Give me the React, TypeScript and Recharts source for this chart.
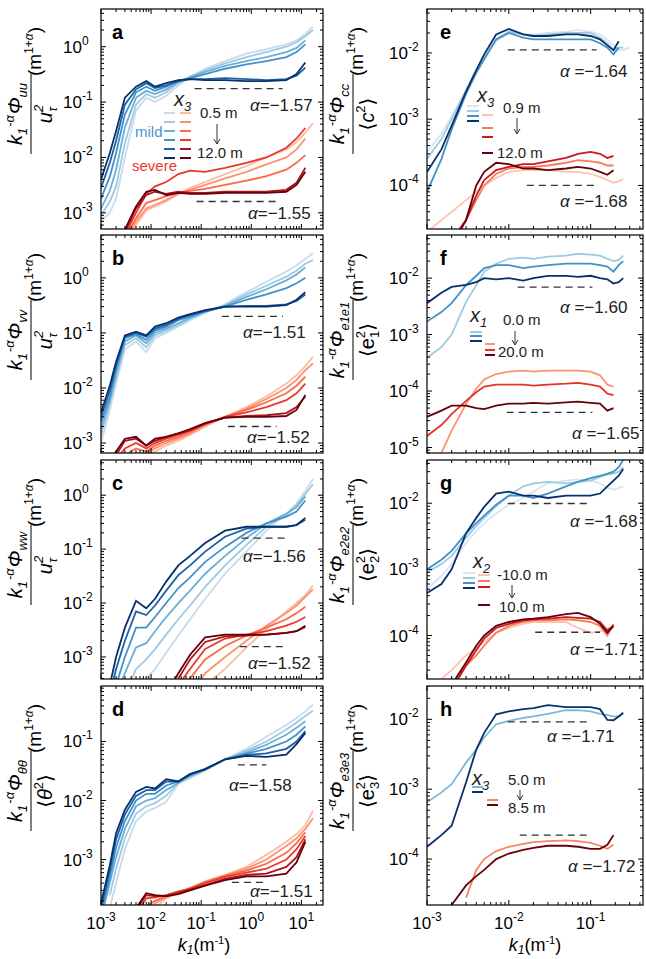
import React from 'react';
import { LineChart, Line, XAxis, YAxis } from 'recharts';

// wavenumber grids (m^-1)
const K_L = [0.001, 0.0015, 0.002, 0.003, 0.005, 0.008, 0.012, 0.02, 0.035, 0.06, 0.12, 0.3, 0.8, 2, 5, 8, 12, 17];
const K_R = [0.001, 0.0015, 0.002, 0.003, 0.004, 0.005, 0.007, 0.01, 0.015, 0.02, 0.03, 0.05, 0.07, 0.1, 0.13, 0.16, 0.19, 0.22, 0.25, 0.3];

// a: uu, mild (blue) and severe (red), light -> dark = 0.5 m -> 12 m
const A_BLUE = [
  [0.0007, 0.001, 0.0018, 0.01, 0.07, 0.12, 0.1, 0.13, 0.2, 0.28, 0.4, 0.55, 0.75, 0.9, 1.1, 1.3, 1.7, 2.3],
  [0.0009, 0.0016, 0.003, 0.018, 0.09, 0.14, 0.12, 0.15, 0.22, 0.29, 0.38, 0.5, 0.65, 0.8, 1.0, 1.2, 1.55, 2.0],
  [0.0012, 0.0025, 0.006, 0.035, 0.12, 0.16, 0.14, 0.17, 0.23, 0.28, 0.35, 0.45, 0.55, 0.65, 0.8, 0.95, 1.3, null],
  [0.0018, 0.0045, 0.012, 0.06, 0.15, 0.19, 0.16, 0.19, 0.24, 0.27, 0.32, 0.4, 0.48, 0.55, 0.65, 0.8, 1.1, null],
  [0.0028, 0.008, 0.02, 0.09, 0.17, 0.22, 0.18, 0.2, 0.24, 0.26, 0.26, 0.27, 0.26, 0.25, 0.26, 0.3, 0.42, null],
  [0.004, 0.012, 0.03, 0.12, 0.19, 0.24, 0.19, 0.22, 0.25, 0.26, 0.25, 0.25, 0.24, 0.24, 0.25, 0.32, 0.52, null],
];
const A_RED = [
  [null, null, 2e-4, 3e-4, 6e-4, 1.1e-3, 1.3e-3, 1.6e-3, 2.2e-3, 2.8e-3, 3.6e-3, 5e-3, 7e-3, 1e-2, 1.4e-2, 1.9e-2, 2.8e-2, 4.2e-2],
  [null, null, 2e-4, 3e-4, 7e-4, 1.2e-3, 1.4e-3, 1.7e-3, 2.2e-3, 2.6e-3, 3.2e-3, 4.2e-3, 5.5e-3, 7.5e-3, 1e-2, 1.4e-2, 2.2e-2, null],
  [null, null, 2e-4, 3.5e-4, 8e-4, 1.5e-3, 1.7e-3, 2e-3, 2.3e-3, 2.5e-3, 2.7e-3, 3.2e-3, 3.8e-3, 4.6e-3, 6e-3, 8e-3, 1.1e-2, null],
  [null, null, 2e-4, 4e-4, 1e-3, 2.2e-3, 3e-3, 3.6e-3, 5e-3, 5.8e-3, 5.5e-3, 6.5e-3, 8e-3, 1e-2, 1.5e-2, 2.2e-2, 3.4e-2, null],
  [null, null, 2e-4, 4.5e-4, 1.2e-3, 2.1e-3, 2.4e-3, 2.2e-3, 2.4e-3, 2.3e-3, 2.3e-3, 2.4e-3, 2.4e-3, 2.4e-3, 2.6e-3, 3.5e-3, 6.5e-3, null],
  [null, null, 2e-4, 5e-4, 1.3e-3, 2.4e-3, 2.6e-3, 2.1e-3, 2.3e-3, 2.2e-3, 2.2e-3, 2.3e-3, 2.3e-3, 2.3e-3, 2.4e-3, 3.2e-3, 5.5e-3, null],
];
const A_REF = [[0.074, 4.2, 0.175], [0.081, 3.6, 1.6e-3]];
const A_ALPHA = ['−1.57', '−1.55'];

// b: vv
const B_BLUE = [
  [0.001, 0.004, 0.012, 0.05, 0.07, 0.045, 0.08, 0.1, 0.13, 0.17, 0.23, 0.33, 0.55, 0.85, 1.3, 1.7, 2.2, 2.8],
  [0.0014, 0.005, 0.015, 0.06, 0.08, 0.055, 0.09, 0.11, 0.14, 0.18, 0.24, 0.32, 0.5, 0.72, 1.05, 1.35, 1.8, 2.1],
  [0.0018, 0.006, 0.018, 0.07, 0.09, 0.065, 0.1, 0.12, 0.15, 0.19, 0.24, 0.31, 0.45, 0.62, 0.9, 1.15, 1.55, null],
  [0.0024, 0.007, 0.022, 0.08, 0.095, 0.075, 0.11, 0.13, 0.17, 0.2, 0.25, 0.3, 0.4, 0.5, 0.65, 0.8, 1.0, null],
  [0.003, 0.009, 0.026, 0.085, 0.1, 0.085, 0.12, 0.14, 0.18, 0.21, 0.25, 0.3, 0.31, 0.31, 0.33, 0.38, 0.5, null],
  [0.0036, 0.011, 0.03, 0.09, 0.105, 0.09, 0.13, 0.15, 0.19, 0.22, 0.26, 0.3, 0.3, 0.3, 0.32, 0.4, 0.55, null],
];
const B_RED = [
  [null, null, null, 3e-4, 5e-4, 6e-4, 7e-4, 9e-4, 1.1e-3, 1.4e-3, 2e-3, 3e-3, 4.5e-3, 7e-3, 1.2e-2, 1.7e-2, 2.5e-2, 3.7e-2],
  [null, null, null, 4e-4, 6e-4, 6.5e-4, 8e-4, 1e-3, 1.2e-3, 1.5e-3, 2.1e-3, 3e-3, 4.2e-3, 6.3e-3, 1e-2, 1.4e-2, 2.1e-2, 2.8e-2],
  [null, null, 4e-4, 6e-4, 8e-4, 7e-4, 9e-4, 1.1e-3, 1.3e-3, 1.6e-3, 2.2e-3, 3e-3, 4e-3, 5.5e-3, 8e-3, 1.1e-2, 1.6e-2, null],
  [null, null, 5e-4, 8e-4, 1e-3, 8e-4, 1e-3, 1.2e-3, 1.4e-3, 1.7e-3, 2.2e-3, 3e-3, 3.6e-3, 4.5e-3, 6e-3, 8e-3, 1.2e-2, null],
  [null, 5e-4, 6e-4, 1.1e-3, 1.2e-3, 9e-4, 1.1e-3, 1.3e-3, 1.5e-3, 1.7e-3, 2.3e-3, 2.9e-3, 3.1e-3, 3.2e-3, 3.5e-3, 4.5e-3, 7e-3, null],
  [null, 5e-4, 7e-4, 1.2e-3, 1.3e-3, 9e-4, 1.2e-3, 1.3e-3, 1.5e-3, 1.8e-3, 2.3e-3, 2.9e-3, 3e-3, 3e-3, 3.1e-3, 4e-3, 7.5e-3, null],
];
const B_REF = [[0.26, 4.3, 0.2], [0.34, 3.2, 2e-3]];
const B_ALPHA = ['−1.51', '−1.52'];

// c: ww
const C_BLUE = [
  [null, null, null, 1e-4, 2e-4, 4e-4, 6e-4, 1.2e-3, 2.5e-3, 5e-3, 0.012, 0.035, 0.09, 0.22, 0.45, 0.7, 1.2, 2.0],
  [null, null, 1e-4, 2e-4, 6e-4, 9e-4, 1.4e-3, 2.6e-3, 5e-3, 9e-3, 0.02, 0.05, 0.12, 0.26, 0.45, 0.65, 1.05, 1.6],
  [null, null, 2e-4, 5e-4, 1.5e-3, 1.8e-3, 3e-3, 5.5e-3, 0.01, 0.017, 0.035, 0.075, 0.16, 0.3, 0.45, 0.6, 0.95, null],
  [null, 1e-4, 3e-4, 1e-3, 3.5e-3, 3.5e-3, 5.5e-3, 0.01, 0.019, 0.03, 0.058, 0.11, 0.2, 0.3, 0.4, 0.5, 0.8, null],
  [null, 2e-4, 6e-4, 2e-3, 7e-3, 6e-3, 9e-3, 0.017, 0.033, 0.05, 0.09, 0.17, 0.24, 0.26, 0.26, 0.28, 0.35, null],
  [null, 3e-4, 1e-3, 3.5e-3, 0.011, 0.008, 0.012, 0.025, 0.05, 0.075, 0.13, 0.22, 0.26, 0.26, 0.26, 0.28, 0.38, null],
];
const C_RED = [
  [null, null, null, null, null, null, null, null, null, null, 3e-4, 6e-4, 1.5e-3, 3.3e-3, 7e-3, 1e-2, 1.4e-2, 2.1e-2],
  [null, null, null, null, null, null, null, null, null, 2e-4, 5e-4, 1e-3, 2e-3, 3.8e-3, 6.5e-3, 9e-3, 1.3e-2, 1.8e-2],
  [null, null, null, null, null, null, null, null, 2e-4, 4e-4, 9e-4, 1.6e-3, 2.5e-3, 3.5e-3, 5e-3, 6.5e-3, 8.5e-3, null],
  [null, null, null, null, null, null, null, null, 3e-4, 6e-4, 1.4e-3, 2.2e-3, 2.6e-3, 3e-3, 3.8e-3, 4.5e-3, 5.5e-3, null],
  [null, null, null, null, null, null, null, null, 4e-4, 9e-4, 1.9e-3, 2.4e-3, 2.5e-3, 2.6e-3, 2.8e-3, 3e-3, 3.6e-3, null],
  [null, null, null, null, null, null, null, 2e-4, 5e-4, 1.1e-3, 2.3e-3, 2.6e-3, 2.6e-3, 2.6e-3, 2.8e-3, 3e-3, 3.8e-3, null],
];
const C_REF = [[0.64, 5.3, 0.16], [0.59, 4.7, 1.55e-3]];
const C_ALPHA = ['−1.56', '−1.52'];

// d: theta theta
const D_BLUE = [
  [null, 1.5e-4, 4e-4, 1.5e-3, 4.5e-3, 6.5e-3, 7.5e-3, 9.5e-3, 0.019, 0.024, 0.032, 0.05, 0.075, 0.12, 0.19, 0.25, 0.32, 0.42],
  [null, 2.5e-4, 7e-4, 2.3e-3, 6e-3, 8e-3, 9e-3, 0.012, 0.02, 0.025, 0.033, 0.05, 0.07, 0.1, 0.16, 0.21, 0.27, 0.33],
  [1e-4, 4e-4, 1.1e-3, 3.3e-3, 8e-3, 0.01, 0.011, 0.015, 0.02, 0.026, 0.033, 0.05, 0.065, 0.088, 0.13, 0.17, 0.22, null],
  [1.2e-4, 5e-4, 1.6e-3, 4.5e-3, 0.01, 0.013, 0.013, 0.018, 0.021, 0.027, 0.034, 0.05, 0.062, 0.075, 0.1, 0.13, 0.18, null],
  [1.5e-4, 6.5e-4, 2.2e-3, 5.8e-3, 0.012, 0.015, 0.015, 0.021, 0.021, 0.028, 0.034, 0.05, 0.059, 0.063, 0.075, 0.1, 0.15, null],
  [1.8e-4, 8e-4, 2.8e-3, 7e-3, 0.014, 0.017, 0.016, 0.023, 0.021, 0.028, 0.034, 0.05, 0.057, 0.055, 0.06, 0.09, 0.14, null],
];
const D_RED = [
  [null, null, null, null, null, null, 1.5e-4, 2.2e-4, 2.7e-4, 3.3e-4, 4.3e-4, 5.5e-4, 7.5e-4, 1.2e-3, 2e-3, 2.7e-3, 3.8e-3, 6.7e-3],
  [null, null, null, null, null, 1.3e-4, 1.8e-4, 2.3e-4, 2.7e-4, 3.3e-4, 4.2e-4, 5.4e-4, 7e-4, 1e-3, 1.7e-3, 2.3e-3, 3.3e-3, 5e-3],
  [null, null, null, null, null, 1.6e-4, 2e-4, 2.4e-4, 2.8e-4, 3.3e-4, 4.1e-4, 5.3e-4, 6.5e-4, 8.5e-4, 1.3e-3, 1.9e-3, 2.9e-3, null],
  [null, null, null, null, 1.2e-4, 2.2e-4, 2.3e-4, 2.5e-4, 2.9e-4, 3.2e-4, 4e-4, 5.1e-4, 6e-4, 7e-4, 1e-3, 1.5e-3, 2.5e-3, null],
  [null, null, null, null, 1.4e-4, 2.5e-4, 2.4e-4, 2.4e-4, 2.7e-4, 3.1e-4, 3.7e-4, 4.7e-4, 5.5e-4, 5.8e-4, 7.5e-4, 1.1e-3, 2.2e-3, null],
  [null, null, null, null, 1.5e-4, 2.7e-4, 2.5e-4, 2.4e-4, 2.6e-4, 3e-4, 3.6e-4, 4.5e-4, 5.2e-4, 5.2e-4, 5.8e-4, 9e-4, 2e-3, null],
];
const D_REF = [[0.54, 2.0, 0.04], [0.41, 2.0, 4.1e-4]];
const D_ALPHA = ['−1.58', '−1.51'];

// e: cc, x3 = 0.9 m -> 12 m
const E_BLUE = [
  [3.2e-4, 6e-4, 1.1e-3, 2.8e-3, 5.5e-3, 8.5e-3, 0.015, 0.02, 0.019, 0.019, 0.02, 0.021, 0.022, 0.021, 0.019, 0.016, 0.013, 0.011, 0.011, 0.012],
  [2.5e-4, 5e-4, 1e-3, 2.7e-3, 5.5e-3, 8.5e-3, 0.016, 0.021, 0.019, 0.018, 0.019, 0.02, 0.02, 0.02, 0.017, 0.014, 0.011, 0.012, 0.012, null],
  [8e-5, 2.5e-4, 7e-4, 2.4e-3, 5e-3, 8e-3, 0.016, 0.02, 0.017, 0.016, 0.016, 0.016, 0.016, 0.016, 0.014, 0.012, 0.0095, 0.012, null, null],
  [1.6e-4, 3.5e-4, 8e-4, 2.6e-3, 5.5e-3, 9.5e-3, 0.019, 0.023, 0.019, 0.018, 0.018, 0.019, 0.019, 0.018, 0.016, 0.013, 0.011, 0.015, null, null],
];
const E_RED = [
  [2e-5, 3e-5, 4e-5, 6e-5, 8e-5, 1e-4, 1.3e-4, 1.6e-4, 1.7e-4, 1.7e-4, 1.7e-4, 1.6e-4, 1.6e-4, 1.5e-4, 1.35e-4, 1.2e-4, 1.1e-4, 1.15e-4, 1.25e-4, null],
  [null, 1e-5, 1.5e-5, 3e-5, 6e-5, 1e-4, 1.5e-4, 1.8e-4, 1.9e-4, 1.9e-4, 2e-4, 2.2e-4, 2.4e-4, 2.3e-4, 2.2e-4, 2e-4, 2e-4, null, null, null],
  [null, 1e-5, 1.5e-5, 3e-5, 7e-5, 1.2e-4, 1.7e-4, 1.9e-4, 2.1e-4, 2.1e-4, 2.3e-4, 2.6e-4, 3e-4, 3.2e-4, 3e-4, 2.6e-4, 2.8e-4, null, null, null],
  [null, 1e-5, 1.2e-5, 3e-5, 1e-4, 1.6e-4, 2.2e-4, 2.1e-4, 1.8e-4, 1.8e-4, 1.7e-4, 1.8e-4, 1.9e-4, 1.8e-4, 1.6e-4, 1.45e-4, 1.7e-4, null, null, null],
];
const E_REF = [[0.0097, 0.118, 0.0111], [0.0166, 0.121, 1e-4]];
const E_ALPHA = ['−1.64', '−1.68'];

// f: e1e1, x1 = 0 m -> 20 m
const F_BLUE = [
  [3.9e-4, 6e-4, 1e-3, 3.8e-3, 7.5e-3, 0.013, 0.018, 0.022, 0.023, 0.022, 0.024, 0.025, 0.027, 0.026, 0.025, 0.022, 0.02, 0.021, 0.025, null],
  [1.7e-3, 2.5e-3, 3.6e-3, 7.5e-3, 0.011, 0.015, 0.017, 0.017, 0.015, 0.016, 0.017, 0.018, 0.018, 0.018, 0.017, 0.016, 0.013, 0.017, 0.02, null],
  [3.6e-3, 5.5e-3, 7e-3, 7.6e-3, 8.5e-3, 0.01, 0.0095, 0.01, 0.009, 0.01, 0.011, 0.011, 0.0105, 0.011, 0.01, 0.0095, 0.008, 0.0085, 0.01, null],
];
const F_RED = [
  [null, 8e-6, 2e-5, 5.9e-5, 1.1e-4, 1.6e-4, 2e-4, 2.2e-4, 2.3e-4, 2.2e-4, 2.3e-4, 2.3e-4, 2.3e-4, 2.2e-4, 1.9e-4, 1.3e-4, 1.2e-4, null, null, null],
  [1.6e-5, 2.5e-5, 3.9e-5, 6.7e-5, 9.5e-5, 1.2e-4, 1.3e-4, 1.3e-4, 1.3e-4, 1.25e-4, 1.3e-4, 1.35e-4, 1.4e-4, 1.3e-4, 1.2e-4, 9e-5, 8.5e-5, null, null, null],
  [3.5e-5, 4.5e-5, 5.5e-5, 5.5e-5, 5e-5, 4.8e-5, 5.5e-5, 6e-5, 6e-5, 6.2e-5, 6e-5, 6.3e-5, 6.5e-5, 6.2e-5, 6e-5, 4.5e-5, 5e-5, null, null, null],
];
const F_REF = [[0.0128, 0.105, 6.9e-3], [0.0094, 0.105, 4.2e-5]];
const F_ALPHA = ['−1.60', '−1.65'];

// g: e2e2, x2 = -10 m -> 10 m
const G_BLUE = [
  [5e-4, 8e-4, 1.2e-3, 2.5e-3, 3.8e-3, 5e-3, 7e-3, 9.5e-3, 0.012, 0.015, 0.02, 0.022, 0.023, 0.022, 0.02, 0.017, 0.016, 0.017, 0.018, null],
  [9e-4, 1.2e-3, 1.6e-3, 3e-3, 4.5e-3, 6e-3, 9e-3, 0.013, 0.018, 0.02, 0.021, 0.02, 0.021, 0.022, 0.025, 0.027, 0.028, 0.03, 0.035, null],
  [1e-3, 1.4e-3, 1.9e-3, 3.5e-3, 5e-3, 6.5e-3, 9.5e-3, 0.013, 0.013, 0.012, 0.014, 0.018, 0.021, 0.024, 0.026, 0.028, 0.03, 0.035, 0.045, null],
  [4.4e-4, 6e-4, 1e-3, 3.5e-3, 6e-3, 8.8e-3, 0.014, 0.015, 0.013, 0.013, 0.012, 0.013, 0.013, 0.013, 0.014, 0.018, 0.022, 0.026, 0.033, null],
];
const G_RED = [
  [null, 2.2e-5, 3e-5, 5e-5, 6.5e-5, 8e-5, 1.1e-4, 1.3e-4, 1.5e-4, 1.6e-4, 1.6e-4, 1.6e-4, 1.3e-4, 1.1e-4, 1.15e-4, 1.25e-4, 1.3e-4, null, null, null],
  [null, null, 1.8e-5, 3.5e-5, 5e-5, 7e-5, 1.1e-4, 1.4e-4, 1.6e-4, 1.7e-4, 1.7e-4, 1.75e-4, 1.7e-4, 1.6e-4, 1.4e-4, 1e-4, 1.5e-4, null, null, null],
  [null, null, 1.5e-5, 3.5e-5, 6e-5, 9e-5, 1.3e-4, 1.5e-4, 1.7e-4, 1.75e-4, 1.8e-4, 1.9e-4, 1.85e-4, 1.8e-4, 1.6e-4, 1.2e-4, 1.4e-4, null, null, null],
  [null, null, 1.8e-5, 3.9e-5, 7e-5, 1e-4, 1.4e-4, 1.6e-4, 1.75e-4, 1.8e-4, 1.9e-4, 2.1e-4, 2.2e-4, 1.9e-4, 1.5e-4, 1.1e-4, 1.4e-4, null, null, null],
];
const G_REF = [[0.0097, 0.1, 9.9e-3], [0.021, 0.13, 1.12e-4]];
const G_ALPHA = ['−1.68', '−1.71'];

// h: e3e3, x3 = 5 m -> 8.5 m
const H_BLUE = [
  [6.5e-4, 9e-4, 1.18e-3, 2.4e-3, 3.7e-3, 5.5e-3, 8.5e-3, 9.5e-3, 0.0105, 0.011, 0.012, 0.0135, 0.0135, 0.013, 0.012, 0.0115, 0.011, 0.011, 0.012, null],
  [1.5e-4, 2.2e-4, 3e-4, 1.25e-3, 3.7e-3, 6.4e-3, 0.0118, 0.013, 0.014, 0.0145, 0.016, 0.015, 0.015, 0.015, 0.014, 0.0098, 0.0097, 0.011, 0.0125, null],
];
const H_RED = [
  [null, null, null, 2.8e-5, 7e-5, 1e-4, 1.3e-4, 1.5e-4, 1.65e-4, 1.75e-4, 1.8e-4, 1.85e-4, 1.8e-4, 1.7e-4, 1.55e-4, 1.4e-4, 1.6e-4, null, null, null],
  [null, null, 2.2e-5, 4.2e-5, 5.7e-5, 7e-5, 1e-4, 1.2e-4, 1.35e-4, 1.45e-4, 1.55e-4, 1.55e-4, 1.5e-4, 1.4e-4, 1.4e-4, 1.6e-4, 2.2e-4, null, null, null],
];
const H_REF = [[0.0097, 0.1, 9.2e-3], [0.0136, 0.091, 2.2e-4]];
const H_ALPHA = ['−1.71', '−1.72'];

const BLUES: Record<number, string[]> = {
  6: ['#c6dbef', '#9ecae1', '#6baed6', '#4292c6', '#1c62a8', '#08306b'],
  4: ['#d6e6f4', '#9ecae1', '#4292c6', '#08306b'],
  3: ['#9ecae1', '#4292c6', '#08306b'],
  2: ['#7db7dc', '#08306b'],
};
const REDS: Record<number, string[]> = {
  6: ['#fcbba1', '#fc9272', '#fb6a4a', '#e8392b', '#b11218', '#67000d'],
  4: ['#fcc5ae', '#fb7a5a', '#cb181d', '#67000d'],
  3: ['#fc9272', '#e3342a', '#67000d'],
  2: ['#fb8263', '#67000d'],
};

const FONT = '"Liberation Sans", Arial, "DejaVu Sans", sans-serif';

const COLS = [
  { left: 101, width: 222, domain: [1e-3, 27], ks: K_L, barX: 31, titleX: 204 },
  { left: 427, width: 216, domain: [1e-3, 0.436], ks: K_R, barX: 353, titleX: 535 },
];
const ROWS = [
  { top: 9, h: 220 },
  { top: 235, h: 218 },
  { top: 460, h: 219 },
  { top: 686, h: 219 },
];
const YW = 46;
const XH = 36;

const PANELS = [
  { id: 'a', col: 0, row: 0, y: [5.1e-4, 4.8], blue: A_BLUE, red: A_RED, ref: A_REF, alpha: A_ALPHA, sub: 'uu', den: 'u', ap: [[250, 111], [248, 219]] },
  { id: 'b', col: 0, row: 1, y: [6.6e-4, 6], blue: B_BLUE, red: B_RED, ref: B_REF, alpha: B_ALPHA, sub: 'vv', den: 'u', ap: [[243, 338], [247, 443]] },
  { id: 'c', col: 0, row: 2, y: [3.9e-4, 4.5], blue: C_BLUE, red: C_RED, ref: C_REF, alpha: C_ALPHA, sub: 'ww', den: 'u', ap: [[243, 562], [248, 669]] },
  { id: 'd', col: 0, row: 3, y: [1.7e-4, 0.87], blue: D_BLUE, red: D_RED, ref: D_REF, alpha: D_ALPHA, sub: 'θθ', den: 'θ', ap: [[229, 791], [250, 897]] },
  { id: 'e', col: 1, row: 0, y: [2.2e-5, 0.046], blue: E_BLUE, red: E_RED, ref: E_REF, alpha: E_ALPHA, sub: 'cc', den: 'c', ap: [[560, 77], [560, 207]] },
  { id: 'f', col: 1, row: 1, y: [8e-6, 0.058], blue: F_BLUE, red: F_RED, ref: F_REF, alpha: F_ALPHA, sub: 'e1e1', den: 'e1', ap: [[560, 313], [572, 439]] },
  { id: 'g', col: 1, row: 2, y: [2.2e-5, 0.045], blue: G_BLUE, red: G_RED, ref: G_REF, alpha: G_ALPHA, sub: 'e2e2', den: 'e2', ap: [[570, 527], [570, 655]] },
  { id: 'h', col: 1, row: 3, y: [2.2e-5, 0.03], blue: H_BLUE, red: H_RED, ref: H_REF, alpha: H_ALPHA, sub: 'e3e3', den: 'e3', ap: [[547, 742], [568, 872]] },
];

const LEGENDS = [
  { panel: 'a', sub: '3', lab: [174, 106], bx: [164, 175], by: [113, 122, 131, 140, 149, 158], rx: [180, 191], ry: [113, 122, 131, 140, 149, 158], top: ['0.5 m', 200, 118], arrow: [217, 124, 144], bot: ['12.0 m', 197, 158] },
  { panel: 'e', sub: '3', lab: [477, 102], bx: [467, 479], by: [106, 111, 116, 121], rx: [482, 493], ry: [115, 128, 137, 153], top: ['0.9 m', 503, 113], arrow: [517, 118, 134], bot: ['12.0 m', 497, 158] },
  { panel: 'f', sub: '1', lab: [470, 322], bx: [470, 482], by: [332, 336, 341], rx: [485, 495], ry: [344, 350, 355], top: ['0.0 m', 503, 325], arrow: [515, 331, 345], bot: ['20.0 m', 498, 357] },
  { panel: 'g', sub: '2', lab: [473, 568], bx: [463, 475], by: [573, 578, 583, 588], rx: [478, 490], ry: [575, 581, 587, 605], top: ['-10.0 m', 497, 580], arrow: [512, 585, 598], bot: ['10.0 m', 499, 612] },
  { panel: 'h', sub: '3', lab: [472, 785], bx: [472, 483], by: [787, 792], rx: [487, 498], ry: [800, 805], top: ['5.0 m', 508, 785], arrow: [520, 790, 800], bot: ['8.5 m', 508, 813] },
];

function logTicks(lo: number, hi: number) {
  const out: number[] = [];
  for (let e = Math.floor(Math.log10(lo)); e <= Math.ceil(Math.log10(hi)); e++) {
    for (let m = 1; m <= 9; m++) {
      const v = parseFloat((m * Math.pow(10, e)).toPrecision(6));
      if (v >= lo && v <= hi) out.push(v);
    }
  }
  return out;
}
const isMajor = (v: number) => {
  const l = Math.log10(v);
  return Math.abs(l - Math.round(l)) < 1e-6;
};

function YTick(props: any) {
  const { y, payload, w } = props;
  const v = payload.value;
  const major = isMajor(v);
  const len = major ? 5 : 3;
  return (
    <g>
      <line x1={YW} x2={YW + len} y1={y} y2={y} stroke="#000" strokeWidth={1} />
      <line x1={YW + w} x2={YW + w - len} y1={y} y2={y} stroke="#000" strokeWidth={1} />
      {major && (
        <text x={YW - 38} y={y + 6} fontSize={17} fontFamily={FONT} fill="#000">
          10<tspan dy={-8} fontSize={12}>{Math.round(Math.log10(v))}</tspan>
        </text>
      )}
    </g>
  );
}

function XTick(props: any) {
  const { x, payload, h, labels } = props;
  const v = payload.value;
  const major = isMajor(v);
  const len = major ? 5 : 3;
  return (
    <g>
      <line x1={x} x2={x} y1={h} y2={h - len} stroke="#000" strokeWidth={1} />
      <line x1={x} x2={x} y1={0} y2={len} stroke="#000" strokeWidth={1} />
      {labels && major && (
        <text x={x} y={h + 24} textAnchor="middle" fontSize={17} fontFamily={FONT} fill="#000">
          10<tspan dy={-8} fontSize={12}>{Math.round(Math.log10(v))}</tspan>
        </text>
      )}
    </g>
  );
}

const toPts = (ks: number[], vs: (number | null)[]) => ks.map((k, i) => ({ k, v: vs[i] ?? null }));

function Panel({ p }: { p: any }) {
  const col = COLS[p.col];
  const row = ROWS[p.row];
  const bc = BLUES[p.blue.length];
  const rc = REDS[p.red.length];
  return (
    <div style={{ position: 'absolute', left: col.left - YW, top: row.top }}>
      <LineChart width={YW + col.width} height={row.h + XH} margin={{ top: 0, right: 0, bottom: 0, left: 0 }}>
        <XAxis
          dataKey="k"
          type="number"
          scale="log"
          domain={col.domain}
          allowDataOverflow
          ticks={logTicks(col.domain[0], col.domain[1])}
          interval={0}
          tickSize={0}
          tickMargin={0}
          axisLine={false}
          tickLine={false}
          height={XH}
          tick={(t: any) => <XTick {...t} h={row.h} labels={p.row === 3} />}
        />
        <YAxis
          type="number"
          scale="log"
          domain={p.y}
          allowDataOverflow
          ticks={logTicks(p.y[0], p.y[1])}
          interval={0}
          tickSize={0}
          tickMargin={0}
          axisLine={false}
          tickLine={false}
          width={YW}
          tick={(t: any) => <YTick {...t} w={col.width} />}
        />
        {p.blue.map((s: any, i: number) => (
          <Line key={`b${i}`} data={toPts(col.ks, s)} dataKey="v" stroke={bc[i]} strokeWidth={1.8} dot={false} isAnimationActive={false} />
        ))}
        {p.red.map((s: any, i: number) => (
          <Line key={`r${i}`} data={toPts(col.ks, s)} dataKey="v" stroke={rc[i]} strokeWidth={1.8} dot={false} isAnimationActive={false} />
        ))}
        {p.ref.map((r: number[], i: number) => (
          <Line
            key={`ref${i}`}
            data={[{ k: r[0], v: r[2] }, { k: r[1], v: r[2] }]}
            dataKey="v"
            stroke="#333"
            strokeWidth={1.3}
            strokeDasharray="7 5"
            dot={false}
            isAnimationActive={false}
          />
        ))}
      </LineChart>
    </div>
  );
}

function Denominator({ den }: { den: string }) {
  if (den === 'u') {
    return (
      <text x={0} y={21} textAnchor="middle" fontSize={20} fontStyle="italic">
        u<tspan fontSize={13} dy={-9}>2</tspan>
        <tspan fontSize={13} dx={-7} dy={14}>τ</tspan>
      </text>
    );
  }
  const sym = den[0];
  const idx = den.slice(1);
  return (
    <text x={0} y={21} textAnchor="middle" fontSize={20}>
      ⟨<tspan fontStyle={sym === 'e' ? 'normal' : 'italic'}>{sym}</tspan>
      <tspan fontSize={13} dy={-9}>2</tspan>
      {idx && (
        <tspan fontSize={13} dx={-7} dy={14}>
          {idx}
        </tspan>
      )}
      <tspan dy={idx ? -5 : 9}>⟩</tspan>
    </text>
  );
}

function YLabel({ x, y, sub, den }: { x: number; y: number; sub: string; den: string }) {
  return (
    <g transform={`translate(${x},${y}) rotate(-90)`} fontFamily={FONT} fill="#000">
      <text x={0} y={-9} textAnchor="middle" fontSize={20} fontStyle="italic">
        k<tspan fontSize={13} dy={5}>1</tspan>
        <tspan fontSize={13} dy={-13} dx={1}>-α</tspan>
        <tspan dy={8} dx={1}>Φ</tspan>
        <tspan fontSize={13} dy={5}>{sub}</tspan>
      </text>
      <line x1={-40} x2={40} y1={0} y2={0} stroke="#000" strokeWidth={1} />
      <Denominator den={den} />
      <text x={38} y={10} fontSize={19}>
        (m<tspan fontSize={12} dy={-8}>1+</tspan>
        <tspan fontSize={12} fontStyle="italic">α</tspan>
        <tspan dy={8}>)</tspan>
      </text>
    </g>
  );
}

function Legend({ l }: { l: any }) {
  const p = PANELS.find((q) => q.id === l.panel)!;
  const bc = BLUES[p.blue.length];
  const rc = REDS[p.red.length];
  const [ax, ay1, ay2] = l.arrow;
  return (
    <g fontFamily={FONT}>
      <text x={l.lab[0]} y={l.lab[1]} fontSize={20} fontStyle="italic" fill="#222">
        x<tspan fontSize={13} dy={5}>{l.sub}</tspan>
      </text>
      {l.by.map((yy: number, i: number) => (
        <line key={`lb${i}`} x1={l.bx[0]} x2={l.bx[1]} y1={yy} y2={yy} stroke={bc[i]} strokeWidth={2} />
      ))}
      {l.ry.map((yy: number, i: number) => (
        <line key={`lr${i}`} x1={l.rx[0]} x2={l.rx[1]} y1={yy} y2={yy} stroke={rc[i]} strokeWidth={2} />
      ))}
      <text x={l.top[1]} y={l.top[2]} fontSize={15} fill="#222">{l.top[0]}</text>
      <line x1={ax} x2={ax} y1={ay1} y2={ay2} stroke="#333" strokeWidth={1} />
      <path d={`M${ax - 3},${ay2 - 5} L${ax},${ay2} L${ax + 3},${ay2 - 5}`} fill="none" stroke="#333" strokeWidth={1} />
      <text x={l.bot[1]} y={l.bot[2]} fontSize={15} fill="#222">{l.bot[0]}</text>
    </g>
  );
}

function Overlay() {
  return (
    <svg width={646} height={959} style={{ position: 'absolute', left: 0, top: 0, pointerEvents: 'none' }}>
      {PANELS.map((p) => {
        const col = COLS[p.col];
        const row = ROWS[p.row];
        return (
          <g key={p.id} fontFamily={FONT}>
            <rect x={col.left} y={row.top} width={col.width} height={row.h} fill="none" stroke="#000" strokeWidth={1.2} />
            <text x={col.left + (p.col ? 13 : 11)} y={row.top + 30} fontSize={20} fontWeight="bold" fill="#000">
              {p.id}
            </text>
            <YLabel x={col.barX} y={row.top + 105} sub={p.sub} den={p.den} />
            {p.alpha.map((a: string, i: number) => (
              <text key={i} x={p.ap[i][0]} y={p.ap[i][1]} fontSize={17} fill="#222">
                <tspan fontStyle="italic">α</tspan>
                {p.col ? ' =' : '='}
                {a}
              </text>
            ))}
          </g>
        );
      })}
      {LEGENDS.map((l) => (
        <Legend key={l.panel} l={l} />
      ))}
      <text x={135} y={137} fontSize={15} fill="#4a93cd" fontFamily={FONT}>mild</text>
      <text x={132} y={171} fontSize={15} fill="#ec3b2d" fontFamily={FONT}>severe</text>
      {COLS.map((c, i) => (
        <text key={i} x={c.titleX} y={951} textAnchor="middle" fontSize={18} fontFamily={FONT} fill="#000">
          <tspan fontStyle="italic">k</tspan>
          <tspan fontSize={12} dy={3} fontStyle="italic">1</tspan>
          <tspan dy={-3}>(m</tspan>
          <tspan fontSize={11} dy={-7}>-1</tspan>
          <tspan dy={7}>)</tspan>
        </text>
      ))}
    </svg>
  );
}

export default function App() {
  return (
    <div style={{ position: 'absolute', left: 0, top: 0, width: 646, height: 959, background: '#fff', overflow: 'hidden' }}>
      {PANELS.map((p) => (
        <Panel key={p.id} p={p} />
      ))}
      <Overlay />
    </div>
  );
}
